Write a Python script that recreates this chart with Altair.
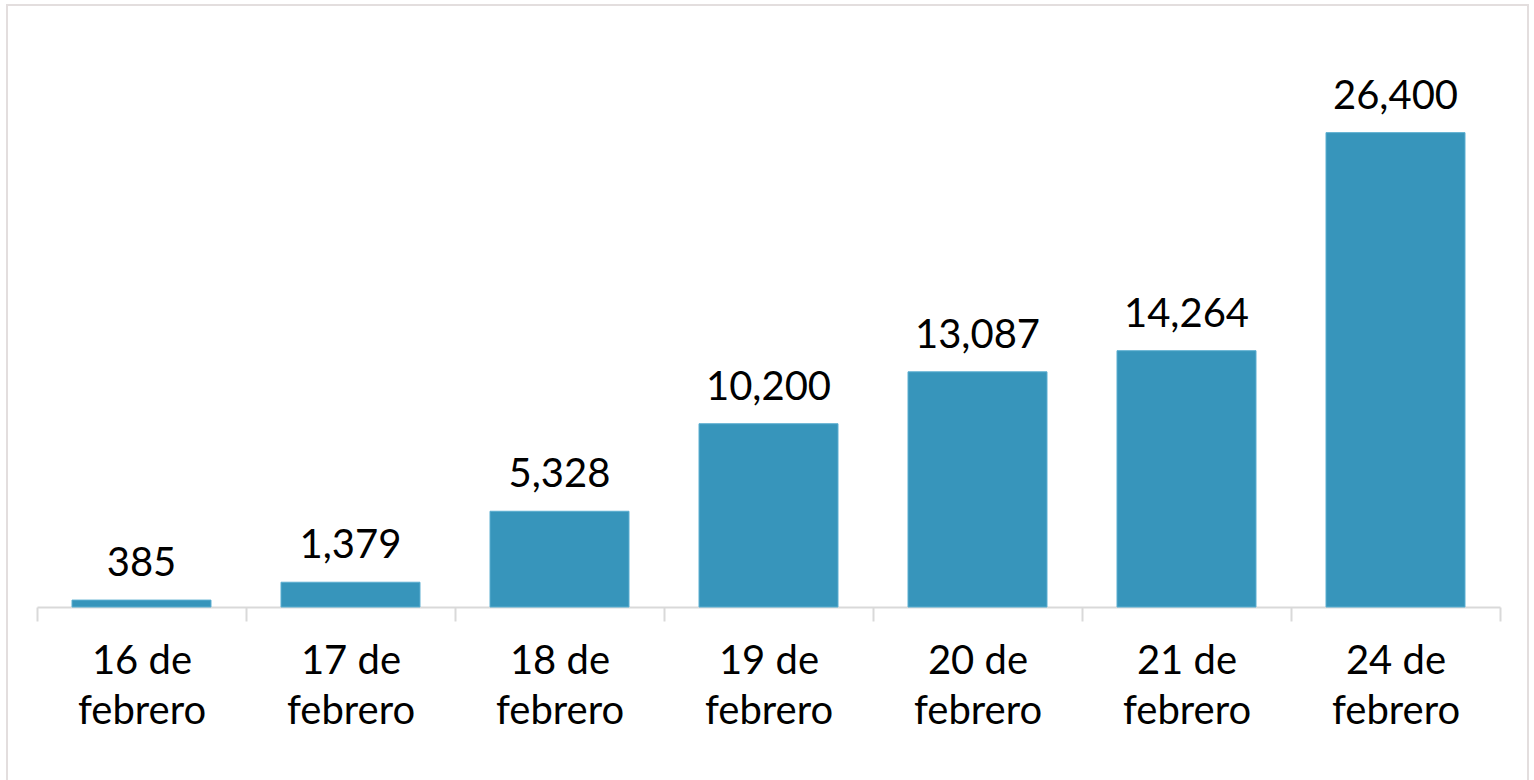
import altair as alt
import pandas as pd

categories = ["16 de febrero", "17 de febrero", "18 de febrero", "19 de febrero",
              "20 de febrero", "21 de febrero", "24 de febrero"]
values = [385, 1379, 5328, 10200, 13087, 14264, 26400]

df = pd.DataFrame({"fecha": categories, "valor": values})

FONT = "Lato"
FS = 40
ymax = 32000
H = round(474 * ymax / 26400)
W = 1463
TOP = 607 - H

x = alt.X("fecha:N", sort=categories, title=None,
          scale=alt.Scale(paddingInner=0, paddingOuter=0),
          axis=alt.Axis(labelAngle=0, labelFont=FONT, labelFontSize=FS, labelColor="#000000",
                        labelExpr="[substring(datum.label, 0, 5), substring(datum.label, 6)]",
                        labelLineHeight=50, labelPadding=20,
                        domainColor="#d9d9d9", domainWidth=2,
                        tickColor="#d9d9d9", tickWidth=2, tickSize=14, tickBand="extent"))
y = alt.Y("valor:Q", scale=alt.Scale(domain=[0, ymax]), axis=None)

bars = alt.Chart(df).mark_bar(color="#3795bb", stroke="#5aaed0", strokeWidth=1,
                              width=alt.RelativeBandSize(0.665)).encode(x=x, y=y)
labels = alt.Chart(df).mark_text(font=FONT, fontSize=FS, color="#000000", baseline="alphabetic", dy=-24).encode(
    x=alt.X("fecha:N", sort=categories), y=y, text=alt.Text("valor:Q", format=",")
)
border = alt.Chart(df).mark_rect(fill=None, stroke="#e3dede", strokeWidth=2).encode(
    x=alt.value(-30), x2=alt.value(1491), y=alt.value(5 - TOP), y2=alt.value(H + 200)
)

chart = alt.layer(border, bars, labels).properties(
    width=W, height=H,
    autosize=alt.AutoSizeParams(type="none"),
    padding={"left": 37, "top": TOP, "right": 34, "bottom": 780 - 607},
    background="white",
).configure_view(stroke=None)

chart.save("out.html", embed_options={"renderer": "svg", "actions": False})
